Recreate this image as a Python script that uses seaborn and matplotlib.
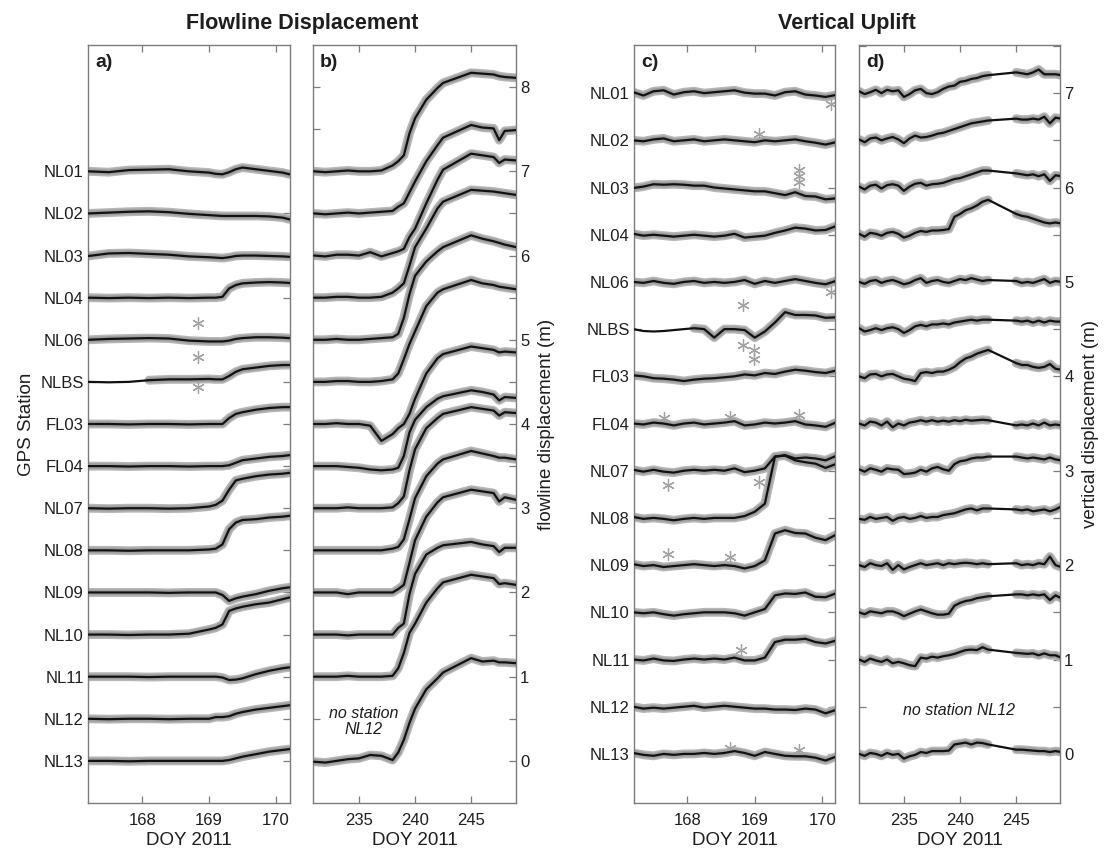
import numpy as np
import pandas as pd
import matplotlib
matplotlib.use("Agg")
import matplotlib.pyplot as plt
import seaborn as sns

# ---------------------------------------------------------------------------
# GPS stations, top to bottom
STATIONS = ["NL01", "NL02", "NL03", "NL04", "NL06", "NLBS", "FL03", "FL04",
            "NL07", "NL08", "NL09", "NL10", "NL11", "NL12", "NL13"]

# ---------------------------------------------------------------------------
# a) flowline displacement (m), DOY 167-170
flow_jun_t = [167.2, 167.5, 167.8, 168.1, 168.4, 168.7, 169.0, 169.1, 169.2,
              169.3, 169.4, 169.5, 169.7, 169.9, 170.1, 170.2]
flow_jun_NL01 = [0.0, -0.01, 0.015, 0.02, 0.025, 0.0, -0.015, -0.03, -0.035, -0.01, 0.025, 0.045, 0.025, 0.005, -0.015, -0.035]
flow_jun_NL02 = [0.0, 0.01, 0.02, 0.025, 0.015, -0.005, -0.02, -0.025, -0.03, -0.03, -0.03, -0.03, -0.03, -0.035, -0.05, -0.07]
flow_jun_NL03 = [-0.005, 0.025, 0.03, 0.02, 0.01, -0.01, -0.02, -0.025, -0.03, -0.02, -0.005, 0.0, 0.0, -0.005, -0.01, -0.015]
flow_jun_NL04 = [0.0, -0.005, 0.0, -0.005, 0.0, -0.005, 0.0, 0.0, 0.01, 0.11, 0.15, 0.17, 0.18, 0.185, 0.18, 0.175]
flow_jun_NL06 = [0.0, 0.01, 0.015, 0.02, 0.015, -0.01, -0.02, -0.02, -0.02, -0.01, 0.01, 0.02, 0.03, 0.03, 0.025, 0.02]
flow_jun_NLBS = [0.0, -0.005, 0.0, 0.02, 0.03, 0.03, 0.035, 0.03, 0.03, 0.07, 0.12, 0.15, 0.17, 0.19, 0.2, 0.2]
flow_jun_FL03 = [0.0, 0.0, -0.005, 0.0, 0.0, -0.005, 0.0, 0.0, 0.0, 0.07, 0.12, 0.14, 0.17, 0.19, 0.2, 0.2]
flow_jun_FL04 = [0.0, 0.0, -0.005, 0.0, 0.0, -0.005, 0.0, 0.0, 0.0, 0.01, 0.04, 0.07, 0.09, 0.11, 0.12, 0.13]
flow_jun_NL07 = [0.0, -0.005, 0.0, 0.0, -0.005, 0.0, 0.02, 0.04, 0.09, 0.22, 0.33, 0.35, 0.38, 0.4, 0.41, 0.42]
flow_jun_NL08 = [0.0, 0.0, -0.005, 0.0, 0.0, 0.0, 0.01, 0.02, 0.07, 0.25, 0.33, 0.36, 0.37, 0.39, 0.4, 0.41]
flow_jun_NL09 = [0.0, 0.0, 0.0, 0.0, -0.005, 0.0, 0.0, 0.0, -0.03, -0.1, -0.07, -0.05, -0.02, 0.02, 0.05, 0.06]
flow_jun_NL10 = [0.0, 0.0, -0.005, 0.0, 0.0, 0.01, 0.06, 0.08, 0.12, 0.28, 0.31, 0.33, 0.36, 0.38, 0.42, 0.44]
flow_jun_NL11 = [0.0, 0.0, 0.0, -0.005, 0.0, 0.0, 0.0, 0.0, -0.01, -0.04, -0.035, -0.02, 0.03, 0.07, 0.1, 0.11]
flow_jun_NL12 = [0.0, -0.005, 0.0, 0.0, -0.005, 0.0, 0.0, 0.02, 0.02, 0.03, 0.06, 0.08, 0.11, 0.13, 0.15, 0.16]
flow_jun_NL13 = [0.0, 0.0, -0.005, 0.0, 0.0, 0.0, 0.0, 0.0, 0.0, 0.01, 0.03, 0.05, 0.08, 0.11, 0.13, 0.14]
flow_jun_out_station = ["NL06", "NLBS", "NLBS"]
flow_jun_out_t = [168.83, 168.83, 168.83]
flow_jun_out_dy = [0.2, 0.3, -0.06]
flow_jun_nodata = {"NLBS": [(167.0, 168.05)]}

# ---------------------------------------------------------------------------
# b) flowline displacement (m), DOY 231-249 (no record for NL12)
flow_aug_t = [231, 232, 233, 234, 235, 236, 237, 238, 238.5, 239, 239.5, 240,
              241, 242, 242.5, 245, 246, 247, 247.5, 248, 249]
flow_aug_NL01 = [0.0, -0.01, 0.0, 0.01, 0.0, 0.0, 0.01, 0.07, 0.12, 0.19, 0.45, 0.63, 0.85, 0.99, 1.05, 1.17, 1.16, 1.15, 1.13, 1.12, 1.11]
flow_aug_NL02 = [0.0, -0.01, 0.0, 0.01, 0.0, 0.01, 0.02, 0.03, 0.08, 0.12, 0.25, 0.38, 0.62, 0.81, 0.9, 1.05, 1.02, 1.01, 0.87, 0.98, 0.99]
flow_aug_NL03 = [0.0, -0.01, 0.01, 0.01, 0.0, 0.04, -0.01, 0.03, 0.05, 0.08, 0.22, 0.32, 0.62, 0.9, 1.02, 1.21, 1.19, 1.17, 1.1, 1.14, 1.13]
flow_aug_NL04 = [0.0, 0.0, 0.01, 0.01, 0.0, 0.0, 0.01, 0.06, 0.11, 0.17, 0.38, 0.6, 0.82, 1.06, 1.14, 1.28, 1.27, 1.26, 1.25, 1.24, 1.22]
flow_aug_NL06 = [0.0, 0.0, 0.01, 0.0, 0.0, 0.01, 0.02, 0.03, 0.07, 0.26, 0.54, 0.76, 0.93, 1.05, 1.1, 1.24, 1.2, 1.17, 1.15, 1.13, 1.1]
flow_aug_NLBS = [0.0, 0.0, 0.01, 0.01, 0.0, 0.0, 0.01, 0.03, 0.1, 0.27, 0.45, 0.6, 0.9, 1.06, 1.1, 1.21, 1.17, 1.15, 1.13, 1.12, 1.1]
flow_aug_FL03 = [0.0, 0.0, 0.01, 0.0, 0.0, -0.02, -0.2, -0.12, -0.05, 0.0, 0.12, 0.3, 0.6, 0.78, 0.83, 0.92, 0.9, 0.88, 0.85, 0.86, 0.85]
flow_aug_FL04 = [0.0, 0.0, 0.0, -0.01, -0.02, -0.04, -0.05, -0.04, -0.02, 0.12, 0.4, 0.55, 0.7, 0.8, 0.83, 0.9, 0.88, 0.85, 0.78, 0.82, 0.81]
flow_aug_NL07 = [0.0, 0.0, 0.0, 0.01, 0.0, 0.0, 0.0, 0.01, 0.06, 0.14, 0.45, 0.7, 0.95, 1.07, 1.12, 1.2, 1.18, 1.16, 1.1, 1.14, 1.13]
flow_aug_NL08 = [0.0, 0.0, 0.0, 0.0, 0.0, 0.0, 0.0, 0.02, 0.04, 0.13, 0.37, 0.62, 0.88, 1.03, 1.08, 1.18, 1.15, 1.12, 1.1, 1.1, 1.08]
flow_aug_NL09 = [0.0, 0.0, 0.0, -0.02, 0.0, 0.0, 0.0, 0.0, 0.04, 0.09, 0.35, 0.62, 0.9, 1.07, 1.13, 1.22, 1.2, 1.18, 1.08, 1.13, 1.1]
flow_aug_NL10 = [0.0, 0.0, 0.0, -0.01, 0.0, 0.0, 0.0, 0.0, 0.08, 0.13, 0.48, 0.72, 0.95, 1.03, 1.06, 1.1, 1.07, 1.05, 0.98, 1.03, 1.03]
flow_aug_NL11 = [0.0, 0.0, 0.0, 0.01, 0.0, 0.0, 0.0, 0.01, 0.1, 0.28, 0.52, 0.63, 0.88, 1.05, 1.12, 1.21, 1.19, 1.17, 1.1, 1.11, 1.09]
flow_aug_NL13 = [-0.01, -0.02, 0.0, 0.02, 0.03, 0.07, 0.06, 0.01, 0.1, 0.25, 0.45, 0.62, 0.85, 0.98, 1.05, 1.22, 1.18, 1.19, 1.17, 1.17, 1.16]
flow_aug_nodata = {}

# ---------------------------------------------------------------------------
# c) vertical displacement (m), DOY 167-170
up_jun_t = [167.2, 167.35, 167.5, 167.65, 167.8, 167.95, 168.1, 168.25, 168.4,
            168.55, 168.7, 168.85, 169.0, 169.15, 169.3, 169.45, 169.6, 169.75,
            169.9, 170.05, 170.2]
up_jun_NL01 = [0.01, -0.025, 0.02, 0.03, -0.015, 0.01, 0.02, 0.0, 0.01, 0.02, 0.03, 0.005, -0.005, -0.005, -0.025, 0.01, 0.02, -0.015, -0.025, -0.04, -0.02]
up_jun_NL02 = [0.0, -0.01, 0.01, 0.02, -0.01, 0.0, 0.01, -0.01, 0.0, 0.01, 0.0, -0.01, -0.02, 0.0, -0.01, 0.0, 0.01, -0.01, -0.025, -0.045, -0.02]
up_jun_NL03 = [-0.005, 0.01, 0.035, 0.03, 0.035, 0.03, 0.02, 0.02, 0.0, -0.01, -0.02, -0.03, -0.04, -0.04, -0.06, -0.08, -0.05, -0.09, -0.095, -0.125, -0.115]
up_jun_NL04 = [0.01, -0.01, 0.0, -0.01, -0.02, -0.01, 0.0, -0.01, -0.02, -0.01, 0.01, -0.03, -0.02, -0.01, 0.02, 0.045, 0.075, 0.065, 0.045, 0.05, 0.09]
up_jun_NL06 = [0.0, -0.01, 0.01, -0.01, -0.02, 0.0, 0.01, -0.01, 0.0, -0.01, 0.0, 0.02, -0.02, 0.01, -0.01, 0.01, 0.03, 0.01, -0.01, -0.025, 0.01]
up_jun_NLBS = [0.0, -0.02, -0.025, -0.02, -0.01, 0.0, 0.01, 0.0, -0.09, 0.0, 0.0, -0.01, -0.09, -0.025, 0.07, 0.18, 0.15, 0.15, 0.145, 0.12, 0.125]
up_jun_FL03 = [0.01, 0.0, -0.02, -0.025, -0.035, -0.05, -0.035, -0.025, -0.02, -0.01, 0.0, 0.02, 0.01, 0.035, 0.025, 0.05, 0.07, 0.06, 0.045, 0.035, 0.06]
up_jun_FL04 = [0.0, -0.01, 0.01, 0.0, -0.02, 0.0, 0.01, -0.01, 0.0, 0.01, 0.025, -0.02, -0.01, 0.01, 0.0, 0.01, 0.025, -0.01, -0.02, -0.035, 0.01]
up_jun_NL07 = [0.01, -0.01, 0.01, -0.01, -0.02, 0.0, 0.01, 0.0, 0.01, 0.0, 0.025, -0.015, 0.0, 0.025, 0.15, 0.165, 0.13, 0.14, 0.13, 0.11, 0.155]
up_jun_NL08 = [0.01, -0.01, 0.0, -0.01, -0.025, -0.01, 0.0, -0.01, 0.0, 0.0, 0.0, 0.02, 0.065, 0.15, 0.65, 0.66, 0.61, 0.59, 0.575, 0.53, 0.57]
up_jun_NL09 = [0.01, -0.01, 0.0, -0.02, -0.01, 0.0, 0.01, 0.0, -0.01, 0.0, -0.01, -0.035, -0.01, 0.05, 0.335, 0.37, 0.34, 0.335, 0.29, 0.265, 0.32]
up_jun_NL10 = [0.0, -0.01, 0.0, -0.02, -0.035, -0.02, -0.01, 0.0, 0.0, 0.0, -0.01, -0.035, 0.0, 0.035, 0.18, 0.2, 0.195, 0.21, 0.165, 0.16, 0.2]
up_jun_NL11 = [0.0, -0.01, 0.01, -0.01, -0.015, 0.0, 0.01, 0.0, 0.01, 0.0, 0.02, -0.01, -0.01, 0.02, 0.185, 0.21, 0.21, 0.22, 0.185, 0.17, 0.2]
up_jun_NL12 = [0.0, -0.02, -0.01, -0.02, -0.01, 0.0, 0.01, -0.01, 0.0, 0.01, 0.0, -0.01, -0.02, -0.02, -0.03, -0.03, -0.035, -0.02, -0.03, -0.07, -0.035]
up_jun_NL13 = [0.01, -0.01, -0.02, 0.0, -0.01, 0.0, 0.0, 0.01, 0.0, 0.01, 0.03, 0.01, -0.02, 0.02, 0.0, -0.02, -0.025, -0.025, -0.04, -0.07, -0.03]
up_jun_out_station = ["NL01", "NL02", "NL03", "NL03", "NL03", "NL06", "NLBS", "NLBS",
                      "NLBS", "NLBS", "FL04", "FL04", "FL04", "NL07", "NL07", "NL09",
                      "NL09", "NL11", "NL13", "NL13"]
up_jun_out_t = [170.13, 169.06, 169.65, 169.65, 169.65, 170.13, 168.83, 168.83,
                168.99, 168.99, 167.65, 168.64, 169.65, 167.72, 169.06, 167.72,
                168.64, 168.8, 168.64, 169.65]
up_jun_out_dy = [-0.11, 0.07, 0.19, 0.12, 0.06, -0.11, 0.26, -0.17,
                 -0.22, -0.32, 0.06, 0.07, 0.09, -0.15, -0.12, 0.12,
                 0.09, 0.1, 0.06, 0.04]
up_jun_nodata = {"NLBS": [(167.0, 168.05)]}

# ---------------------------------------------------------------------------
# d) vertical displacement (m), DOY 231-249 (no record for NL12)
up_aug_t = [231, 231.5, 232, 232.5, 233, 233.5, 234, 234.5, 235, 235.5, 236,
            236.5, 237, 237.5, 238, 238.5, 239, 239.5, 240, 240.5, 241, 241.5,
            242, 242.5, 245, 245.5, 246, 246.5, 247, 247.5, 248, 248.5, 249]
up_aug_NL01 = [0.02, -0.01, 0.01, 0.035, 0.0, 0.035, 0.02, 0.03, -0.04, -0.01, 0.03, 0.045, 0.0, -0.01, 0.01, 0.045, 0.07, 0.08, 0.12, 0.13, 0.15, 0.16, 0.18, 0.19, 0.22, 0.21, 0.2, 0.22, 0.25, 0.2, 0.2, 0.2, 0.19]
up_aug_NL02 = [0.01, -0.02, 0.02, 0.03, 0.0, 0.02, 0.035, 0.01, -0.03, 0.02, 0.05, 0.03, 0.035, 0.05, 0.07, 0.08, 0.1, 0.12, 0.14, 0.16, 0.18, 0.19, 0.2, 0.21, 0.23, 0.22, 0.22, 0.23, 0.22, 0.25, 0.18, 0.24, 0.23]
up_aug_NL03 = [0.01, -0.02, 0.02, 0.03, -0.01, 0.025, 0.035, 0.02, -0.035, 0.01, 0.04, 0.05, 0.02, 0.035, 0.04, 0.05, 0.07, 0.09, 0.1, 0.12, 0.14, 0.16, 0.18, 0.18, 0.15, 0.14, 0.13, 0.14, 0.12, 0.14, 0.07, 0.13, 0.12]
up_aug_NL04 = [0.01, -0.02, 0.02, 0.01, -0.01, 0.02, 0.03, 0.01, -0.03, -0.01, 0.02, 0.04, 0.03, 0.045, 0.045, 0.05, 0.06, 0.19, 0.22, 0.26, 0.28, 0.31, 0.35, 0.37, 0.22, 0.2, 0.19, 0.17, 0.15, 0.13, 0.12, 0.13, 0.12]
up_aug_NL06 = [0.0, -0.02, 0.01, 0.02, -0.01, 0.01, 0.02, 0.0, -0.025, -0.01, 0.02, 0.04, -0.01, 0.01, 0.02, 0.0, -0.01, 0.01, 0.03, 0.02, 0.04, 0.025, 0.01, 0.02, 0.01, -0.01, 0.0, -0.01, 0.01, 0.03, -0.01, 0.01, 0.0]
up_aug_NLBS = [0.01, -0.025, -0.01, 0.01, -0.01, 0.01, 0.02, 0.0, -0.04, -0.01, 0.03, 0.045, 0.03, 0.05, 0.05, 0.06, 0.05, 0.07, 0.08, 0.09, 0.1, 0.09, 0.1, 0.1, 0.09, 0.08, 0.09, 0.07, 0.09, 0.07, 0.09, 0.08, 0.08]
up_aug_FL03 = [0.0, -0.02, 0.02, 0.025, 0.0, 0.02, 0.025, 0.0, -0.025, -0.035, -0.05, 0.035, 0.045, 0.035, 0.05, 0.05, 0.07, 0.1, 0.15, 0.19, 0.21, 0.24, 0.26, 0.28, 0.14, 0.12, 0.12, 0.1, 0.09, 0.1, 0.13, 0.08, 0.07]
up_aug_FL04 = [0.0, -0.02, 0.02, 0.01, -0.02, 0.02, -0.04, 0.0, -0.02, 0.01, 0.02, 0.035, 0.02, 0.035, 0.02, 0.03, 0.02, 0.035, 0.025, 0.04, 0.03, 0.035, 0.04, 0.035, -0.02, -0.01, -0.02, 0.0, -0.02, 0.01, -0.02, -0.01, -0.02]
up_aug_NL07 = [0.015, -0.01, 0.025, 0.01, -0.01, 0.025, 0.015, 0.01, -0.035, -0.03, -0.02, 0.01, -0.01, 0.025, 0.04, 0.015, 0.0, 0.07, 0.1, 0.11, 0.13, 0.14, 0.14, 0.15, 0.15, 0.14, 0.13, 0.14, 0.13, 0.12, 0.14, 0.12, 0.11]
up_aug_NL08 = [-0.01, -0.02, 0.01, -0.01, 0.0, 0.01, -0.03, 0.0, 0.01, -0.01, 0.0, 0.02, 0.0, 0.01, 0.01, 0.03, 0.04, 0.05, 0.07, 0.09, 0.1, 0.08, 0.1, 0.1, 0.09, 0.08, 0.09, 0.07, 0.08, 0.09, 0.07, 0.09, 0.12]
up_aug_NL09 = [0.0, -0.02, 0.02, 0.0, -0.01, 0.02, -0.05, 0.0, -0.045, -0.02, 0.0, 0.02, 0.0, 0.01, 0.02, 0.0, 0.02, 0.01, 0.02, 0.025, 0.02, 0.01, 0.02, 0.01, 0.02, 0.0, 0.01, 0.0, 0.02, 0.01, 0.09, 0.0, -0.02]
up_aug_NL10 = [0.0, -0.02, 0.01, 0.0, -0.01, 0.01, 0.01, -0.01, -0.04, -0.015, 0.01, 0.03, 0.01, -0.01, -0.025, -0.025, -0.015, 0.07, 0.1, 0.12, 0.13, 0.15, 0.16, 0.17, 0.19, 0.19, 0.18, 0.19, 0.18, 0.19, 0.13, 0.18, 0.15]
up_aug_NL11 = [0.0, -0.025, 0.01, -0.01, -0.025, 0.0, -0.04, -0.025, -0.04, -0.06, -0.07, 0.02, 0.01, 0.03, 0.02, 0.035, 0.045, 0.06, 0.08, 0.1, 0.105, 0.1, 0.13, 0.105, 0.07, 0.065, 0.06, 0.065, 0.045, 0.065, 0.045, 0.045, 0.02]
up_aug_NL13 = [0.0, -0.02, 0.01, 0.0, -0.02, 0.01, -0.01, 0.0, -0.05, -0.025, -0.01, 0.02, 0.01, 0.03, 0.03, 0.03, 0.035, 0.1, 0.11, 0.12, 0.1, 0.12, 0.115, 0.1, 0.045, 0.045, 0.04, 0.035, 0.03, 0.03, 0.02, 0.03, 0.02]
up_aug_nodata = {"*": [(242.6, 244.9)]}

# ---------------------------------------------------------------------------
flow_jun = dict(zip(STATIONS, [flow_jun_NL01, flow_jun_NL02, flow_jun_NL03, flow_jun_NL04,
                               flow_jun_NL06, flow_jun_NLBS, flow_jun_FL03, flow_jun_FL04,
                               flow_jun_NL07, flow_jun_NL08, flow_jun_NL09, flow_jun_NL10,
                               flow_jun_NL11, flow_jun_NL12, flow_jun_NL13]))
flow_aug = dict(zip([s for s in STATIONS if s != "NL12"],
                    [flow_aug_NL01, flow_aug_NL02, flow_aug_NL03, flow_aug_NL04,
                     flow_aug_NL06, flow_aug_NLBS, flow_aug_FL03, flow_aug_FL04,
                     flow_aug_NL07, flow_aug_NL08, flow_aug_NL09, flow_aug_NL10,
                     flow_aug_NL11, flow_aug_NL13]))
up_jun = dict(zip(STATIONS, [up_jun_NL01, up_jun_NL02, up_jun_NL03, up_jun_NL04,
                             up_jun_NL06, up_jun_NLBS, up_jun_FL03, up_jun_FL04,
                             up_jun_NL07, up_jun_NL08, up_jun_NL09, up_jun_NL10,
                             up_jun_NL11, up_jun_NL12, up_jun_NL13]))
up_aug = dict(zip([s for s in STATIONS if s != "NL12"],
                  [up_aug_NL01, up_aug_NL02, up_aug_NL03, up_aug_NL04,
                   up_aug_NL06, up_aug_NLBS, up_aug_FL03, up_aug_FL04,
                   up_aug_NL07, up_aug_NL08, up_aug_NL09, up_aug_NL10,
                   up_aug_NL11, up_aug_NL13]))

SPACING = 0.5  # vertical separation between stacked stations (m)


def row_offset(name):
    return SPACING * (len(STATIONS) - 1 - STATIONS.index(name))


def in_gaps(t, gaps):
    return any(a < t < b for a, b in gaps)


def build_frames(times, series, nodata):
    """Long-form tables: full traces and the sampled (halo) stretches."""
    line_rows, halo_rows = [], []
    for name, vals in series.items():
        off = row_offset(name)
        gaps = nodata.get(name, []) + nodata.get("*", [])
        seg = 0
        prev_t = None
        for t, v in zip(times, vals):
            line_rows.append((t, v + off, name))
            if in_gaps(t, gaps):
                prev_t = None
                continue
            if prev_t is not None and in_gaps(0.5 * (prev_t + t), gaps):
                seg += 1
            halo_rows.append((t, v + off, f"{name}-{seg}"))
            prev_t = t
    line_df = pd.DataFrame(line_rows, columns=["t", "y", "station"])
    halo_df = pd.DataFrame(halo_rows, columns=["t", "y", "seg"])
    return line_df, halo_df


# ---------------------------------------------------------------------------
sns.set_theme(style="ticks")
plt.rcParams["font.family"] = ["Liberation Sans", "DejaVu Sans"]
plt.rcParams["axes.linewidth"] = 1.0

HALO_OUTER = "#b7b7b7"
HALO_INNER = "#9f9f9f"
LINE = "#111111"
FRAME = "#7c7c7c"
TEXT = "#1e1e1e"

fig = plt.figure(figsize=(11.05, 8.56), dpi=100)
W, H = 1105.0, 856.0


def axes_px(left, right, top=45, bottom=803):
    return fig.add_axes([left / W, 1 - bottom / H, (right - left) / W, (bottom - top) / H])


ax_a = axes_px(88, 290)
ax_b = axes_px(313, 516)
ax_c = axes_px(634, 835)
ax_d = axes_px(859, 1060)

panels = [
    (ax_a, flow_jun_t, flow_jun, flow_jun_nodata),
    (ax_b, flow_aug_t, flow_aug, flow_aug_nodata),
    (ax_c, up_jun_t, up_jun, up_jun_nodata),
    (ax_d, up_aug_t, up_aug, up_aug_nodata),
]

for ax, times, series, nodata in panels:
    line_df, halo_df = build_frames(times, series, nodata)
    # raw-sample envelope: soft outer band plus a denser core
    sns.lineplot(data=halo_df, x="t", y="y", units="seg", estimator=None, sort=False,
                 color=HALO_OUTER, lw=6.4, solid_capstyle="round", solid_joinstyle="round",
                 legend=False, ax=ax, zorder=2)
    sns.lineplot(data=halo_df, x="t", y="y", units="seg", estimator=None, sort=False,
                 color=HALO_INNER, lw=4.2, solid_capstyle="round", solid_joinstyle="round",
                 legend=False, ax=ax, zorder=2.2)
    # smoothed trace
    sns.lineplot(data=line_df, x="t", y="y", units="station", estimator=None, sort=False,
                 color=LINE, lw=1.6, solid_joinstyle="round", legend=False, ax=ax, zorder=3)

# isolated samples drawn as asterisks
for ax, st, tt, dy in [(ax_a, flow_jun_out_station, flow_jun_out_t, flow_jun_out_dy),
                       (ax_c, up_jun_out_station, up_jun_out_t, up_jun_out_dy)]:
    ys = [row_offset(s) + d for s, d in zip(st, dy)]
    ax.plot(tt, ys, ls="none", marker=(6, 2, 0), ms=9, mew=0.9, color="#a2a2a2", zorder=2.5)

# axes limits
ax_a.set_xlim(167.19, 170.21)
ax_b.set_xlim(230.9, 249.0)
ax_c.set_xlim(167.21, 170.19)
ax_d.set_xlim(231.0, 248.9)
for ax in (ax_a, ax_b):
    ax.set_ylim(-0.5, 8.5)
for ax in (ax_c, ax_d):
    ax.set_ylim(-0.52, 7.51)

# ticks
station_pos = [row_offset(s) for s in STATIONS]
for ax in (ax_a, ax_c):
    ax.set_xticks([168, 169, 170])
    ax.set_yticks(station_pos)
    ax.set_yticklabels(STATIONS)
for ax in (ax_b, ax_d):
    ax.set_xticks([235, 240, 245])
b_ticks = np.arange(0, 8.01, 0.5)
ax_b.set_yticks(b_ticks)
ax_b.set_yticklabels([f"{v:g}" if v == int(v) else "" for v in b_ticks])
d_ticks = np.arange(0, 7.51, 0.5)
ax_d.set_yticks(d_ticks)
ax_d.set_yticklabels([f"{v:g}" if v == int(v) else "" for v in d_ticks])

for ax in (ax_a, ax_b, ax_c, ax_d):
    ax.tick_params(axis="both", direction="in", top=True, bottom=True, left=True, right=True,
                   length=5, width=0.9, color=FRAME, labelsize=12, labelcolor=TEXT)
    ax.tick_params(axis="x", pad=7)
    ax.tick_params(axis="y", pad=3)
    for sp in ax.spines.values():
        sp.set_color(FRAME)
        sp.set_linewidth(1.0)
        sp.set_visible(True)
    ax.set_xlabel("DOY 2011", fontsize=13.5, color=TEXT, labelpad=3)
    ax.set_ylabel("")

for ax in (ax_b, ax_d):
    ax.tick_params(axis="y", labelleft=False, labelright=True)
    ax.yaxis.set_label_position("right")

ax_a.set_ylabel("GPS Station", fontsize=13.5, color=TEXT, labelpad=4)
ax_b.set_ylabel("flowline displacement (m)", fontsize=13.5, color=TEXT, labelpad=6)
ax_d.set_ylabel("vertical displacement (m)", fontsize=13.5, color=TEXT, labelpad=6)

# panel letters
for ax, letter in zip((ax_a, ax_b, ax_c, ax_d), ("a)", "b)", "c)", "d)")):
    ax.text(0.035, 0.988, letter, transform=ax.transAxes, ha="left", va="top",
            fontsize=14, fontweight="bold", color=TEXT)

ax_b.text(235.45, 0.47, "no station\nNL12", ha="center", va="center", style="italic",
          fontsize=11.5, color=TEXT, linespacing=1.05)
ax_d.text(239.9, 0.46, "no station NL12", ha="center", va="center", style="italic",
          fontsize=11.5, color=TEXT)

fig.text(302 / W, 1 - 23 / H, "Flowline Displacement", ha="center", va="center",
         fontsize=15.5, fontweight="bold", color=TEXT)
fig.text(847 / W, 1 - 23 / H, "Vertical Uplift", ha="center", va="center",
         fontsize=15.5, fontweight="bold", color=TEXT)

fig.savefig("out.png", dpi=100)
